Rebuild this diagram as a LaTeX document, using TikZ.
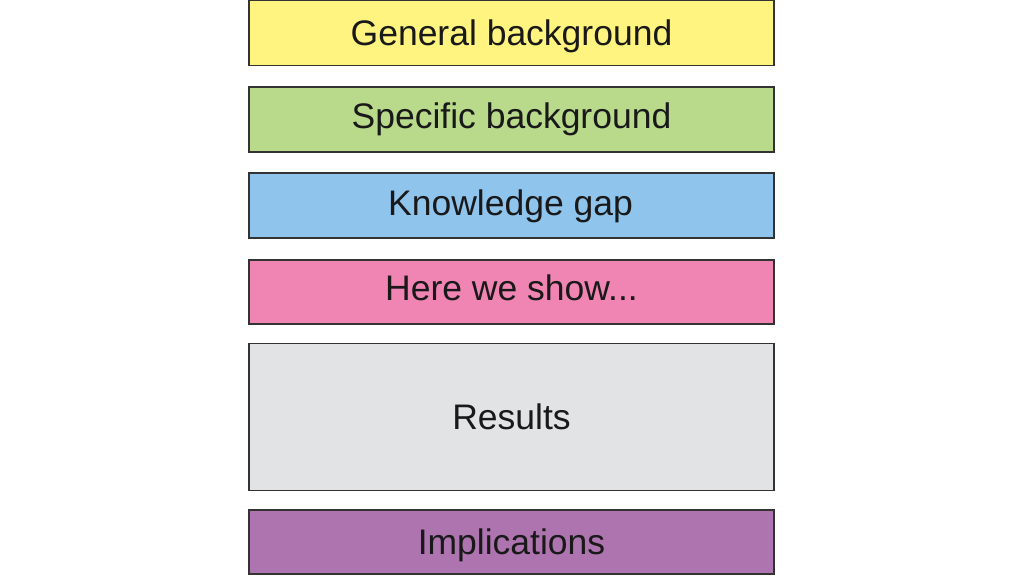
\documentclass[tikz,border=0pt]{standalone}
\usepackage{fontspec}
\setmainfont{Liberation Sans}
\definecolor{cyellow}{HTML}{FFF47F}
\definecolor{cgreen}{HTML}{B9D98B}
\definecolor{cblue}{HTML}{8FC4EC}
\definecolor{cpink}{HTML}{F084B3}
\definecolor{cgrey}{HTML}{E2E3E5}
\definecolor{cpurple}{HTML}{AE74AF}
\definecolor{cedge}{HTML}{333333}
\begin{document}
\begin{tikzpicture}[x=1pt,y=-1pt,
  sect/.style={draw=cedge,line width=1.8pt,minimum width=525pt,inner sep=0pt},
  lbl/.style={anchor=base,inner sep=0pt,font=\fontsize{35.5}{40}\selectfont,text=black!90}]
\useasboundingbox (0,0) rectangle (1024,576);
\node[sect,fill=cyellow,minimum height=65pt] (gen) at (511.5,33) {};
\node[sect,fill=cgreen,minimum height=65pt] (spec) at (511.5,119.5) {};
\node[sect,fill=cblue,minimum height=65pt] (gap) at (511.5,205.5) {};
\node[sect,fill=cpink,minimum height=64pt] (show) at (511.5,292) {};
\node[sect,fill=cgrey,minimum height=147pt] (res) at (511.5,417) {};
\node[sect,fill=cpurple,minimum height=64pt] (impl) at (511.5,542) {};
\node[lbl] (genT) at (511.5,45) {General background};
\node[lbl] (specT) at (511.5,128.5) {Specific background};
\node[lbl] (gapT) at (510.5,215) {Knowledge gap};
\node[lbl] (showT) at (511.5,300) {Here we show...};
\node[lbl] (resT) at (511.5,429) {Results};
\node[lbl] (implT) at (511.5,554) {Implications};
\end{tikzpicture}
\end{document}
